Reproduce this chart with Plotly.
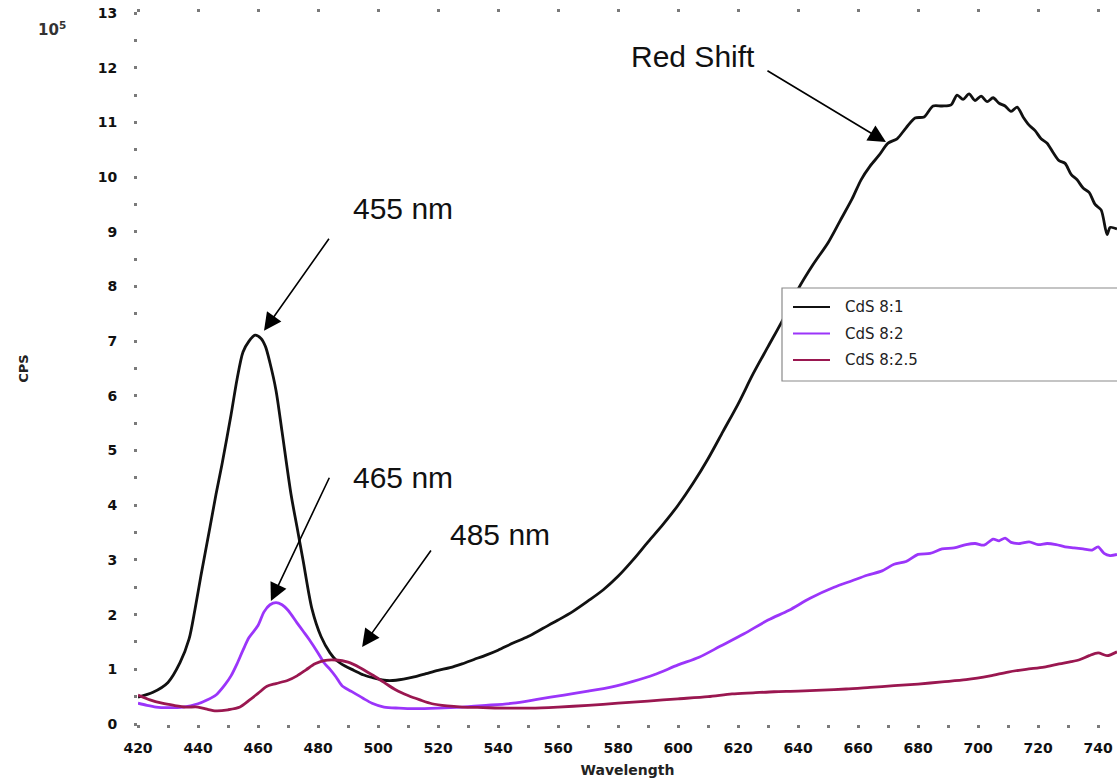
import plotly.graph_objects as go

# ---- emission spectra (wavelength in nm, intensity in units of 10^5 CPS) ----
series_names = ["CdS 8:1", "CdS 8:2", "CdS 8:2.5"]

wl_81 = [420, 425, 430, 434, 437, 439, 441, 444, 446, 448, 451, 453, 455, 457, 459, 461, 462.5, 464,
         466, 468, 471, 473, 475, 478, 481, 484, 486, 489, 492, 495, 498, 502, 506, 512, 516, 520,
         524, 528, 532, 536, 540, 545, 550, 555, 560, 565, 570, 575, 580, 585, 590, 595, 600, 605,
         610, 615, 620, 625, 630, 635, 640, 645, 650, 654, 658, 661, 664, 667, 670, 673, 676, 679,
         682, 685, 688, 691, 693, 695, 697, 699, 701, 703, 705, 707, 709, 711, 713, 715, 717, 719,
         721, 723, 725, 727, 729, 731, 733, 735, 737, 739, 741, 743, 744, 746.3]
cps_81 = [0.49, 0.58, 0.76, 1.12, 1.55, 2.1, 2.72, 3.6, 4.2, 4.75, 5.65, 6.3, 6.8, 7.0, 7.11, 7.05,
          6.9, 6.6, 6.1, 5.35, 4.2, 3.6, 3.0, 2.1, 1.6, 1.3, 1.17, 1.06, 0.98, 0.9, 0.85, 0.8, 0.8,
          0.86, 0.92, 0.98, 1.03, 1.1, 1.18, 1.26, 1.35, 1.48, 1.6, 1.75, 1.9, 2.06, 2.25, 2.45,
          2.7, 3.0, 3.33, 3.65, 4.0, 4.4, 4.85, 5.35, 5.85, 6.4, 6.9, 7.4, 7.95, 8.4, 8.8, 9.2, 9.6,
          9.95, 10.2, 10.4, 10.62, 10.7, 10.9, 11.08, 11.1, 11.3, 11.3, 11.32, 11.5, 11.42, 11.52,
          11.4, 11.48, 11.38, 11.45, 11.35, 11.3, 11.2, 11.28, 11.1, 10.95, 10.85, 10.7, 10.62,
          10.45, 10.3, 10.25, 10.05, 9.95, 9.8, 9.72, 9.5, 9.4, 8.95, 9.08, 9.05]

wl_82 = [420, 423, 426, 430, 435, 440, 443, 446, 449, 451, 453, 455, 457, 460, 462, 464, 466, 468,
         470, 473, 475, 477, 480, 482, 484, 486, 488, 491, 495, 498, 502, 507, 512, 520, 528, 536,
         545, 553, 562, 570, 578, 585, 592, 600, 607, 614, 622, 630, 637, 644, 652, 658, 663, 668,
         672, 676, 680, 684, 688, 692, 696, 699, 702, 705, 707, 709, 711, 714, 717, 720, 723, 726,
         729, 732, 735, 738, 740, 742, 744, 746.3]
cps_82 = [0.38, 0.34, 0.31, 0.30, 0.31, 0.37, 0.44, 0.53, 0.72, 0.88, 1.1, 1.35, 1.58, 1.8, 2.05,
          2.18, 2.22, 2.18, 2.08, 1.85, 1.7, 1.55, 1.3, 1.12, 1.0, 0.86, 0.7, 0.6, 0.47, 0.38, 0.31,
          0.29, 0.28, 0.29, 0.31, 0.34, 0.38, 0.45, 0.53, 0.6, 0.68, 0.78, 0.9, 1.08, 1.22, 1.42,
          1.65, 1.9, 2.08, 2.3, 2.5, 2.62, 2.72, 2.8, 2.92, 2.97, 3.1, 3.12, 3.2, 3.22, 3.28, 3.3,
          3.27, 3.38, 3.35, 3.4, 3.32, 3.3, 3.33, 3.28, 3.3, 3.28, 3.24, 3.22, 3.2, 3.18, 3.24,
          3.12, 3.08, 3.1]

wl_825 = [420, 424, 428, 432, 436, 440, 443, 446, 450, 454, 457, 460, 463, 466, 470, 473, 476, 479,
          482, 486, 490, 494, 498, 502, 506, 510, 514, 518, 523, 528, 535, 543, 551, 560, 570, 580,
          590, 600, 610, 618, 625, 632, 640, 648, 656, 664, 672, 680, 688, 696, 704, 710, 716, 722,
          727, 731, 734, 737, 740, 743, 746.3]
cps_825 = [0.53, 0.44, 0.38, 0.34, 0.31, 0.31, 0.27, 0.24, 0.26, 0.31, 0.43, 0.56, 0.69, 0.74, 0.8,
           0.88, 0.99, 1.1, 1.16, 1.17, 1.13, 1.03, 0.9, 0.76, 0.62, 0.52, 0.44, 0.37, 0.33, 0.31,
           0.3, 0.29, 0.29, 0.31, 0.34, 0.38, 0.42, 0.46, 0.5, 0.55, 0.57, 0.59, 0.6, 0.62, 0.64,
           0.67, 0.7, 0.73, 0.77, 0.81, 0.88, 0.95, 1.0, 1.04, 1.1, 1.14, 1.18, 1.25, 1.3, 1.25, 1.32]

series_colors = ["#111111", "#9B35FA", "#9A1750"]

# axis ticks
x_tick_vals = list(range(420, 741, 20))
y_tick_vals = list(range(0, 14))

# peak call-outs: (label, label position, arrow tip, arrow tail) in data units
callouts = [
    ("455 nm", (508.3, 9.43), (462.0, 7.19), (484.0, 8.90)),
    ("465 nm", (508.3, 4.50), (464.3, 2.25), (484.0, 4.53)),
    ("485 nm", (540.7, 3.46), (494.7, 1.41), (518.0, 3.20)),
    ("Red Shift", (605.0, 12.2), (669.3, 10.64), (629.3, 11.96)),
]

W, H = 1117, 782
L, R, T, B = 138, 0, 13, 58
PW, PH = W - L - R, H - T - B


def px(x):
    return (x - L) / PW


def py(y):
    return (H - B - y) / PH


fig = go.Figure()
for name, xs, ys, col in zip(series_names, [wl_81, wl_82, wl_825],
                             [cps_81, cps_82, cps_825], series_colors):
    fig.add_trace(go.Scatter(x=xs, y=ys, mode="lines", name=name,
                             line=dict(color=col, width=2.8, shape="spline", smoothing=0.8),
                             showlegend=False))

tick_font = dict(family="DejaVu Sans", size=14, color="#111111", weight="bold")

fig.update_layout(
    width=W, height=H,
    margin=dict(l=L, r=R, t=T, b=B, autoexpand=False),
    paper_bgcolor="white", plot_bgcolor="white",
    showlegend=False,
    xaxis=dict(
        range=[420, 746.3], tickvals=x_tick_vals, showgrid=False, zeroline=False,
        showline=False, ticks="outside", ticklen=3, tickwidth=3, tickcolor="#7a7a7a",
        minor=dict(dtick=10, tick0=420, ticks="outside", ticklen=3, tickwidth=3,
                   tickcolor="#7a7a7a", showgrid=False),
        tickfont=tick_font, ticklabelstandoff=8,
        title=dict(text="Wavelength", standoff=10,
                   font=dict(family="DejaVu Sans", size=14, color="#222222", weight="bold")),
    ),
    xaxis2=dict(
        range=[420, 746.3], overlaying="x", side="top", tickvals=x_tick_vals,
        showticklabels=False, showgrid=False, zeroline=False, showline=False,
        ticks="outside", ticklen=3, tickwidth=3, tickcolor="#7a7a7a",
    ),
    yaxis=dict(
        range=[0, 13], tickvals=y_tick_vals, showgrid=False, zeroline=False,
        showline=False, ticks="outside", ticklen=3, tickwidth=3, tickcolor="#7a7a7a",
        minor=dict(dtick=0.5, tick0=0, ticks="outside", ticklen=3, tickwidth=3,
                   tickcolor="#7a7a7a", showgrid=False),
        tickfont=tick_font, ticklabelstandoff=14,
        title=dict(text="CPS", standoff=66,
                   font=dict(family="DejaVu Sans", size=13, color="#222222", weight="bold")),
    ),
)

# an invisible point keeps the top axis alive
fig.add_trace(go.Scatter(x=[420], y=[0], xaxis="x2", mode="markers",
                         marker=dict(opacity=0), hoverinfo="skip", showlegend=False))

annotations = []
for text, (tx, ty), (hx, hy), (ax, ay) in callouts:
    annotations.append(dict(x=tx, y=ty, xref="x", yref="y", text=text, showarrow=False,
                            font=dict(family="Liberation Sans, Arial", size=30, color="#111111")))
    annotations.append(dict(x=hx, y=hy, xref="x", yref="y", ax=ax, ay=ay,
                            axref="x", ayref="y", text="", showarrow=True,
                            arrowhead=2, arrowsize=2.2, arrowwidth=1.6,
                            arrowcolor="#000000", standoff=0))

# exponent marker for the intensity scale
annotations.append(dict(x=px(36), y=py(17), xref="paper", yref="paper",
                        text="10<sup>5</sup>", showarrow=False,
                        font=dict(family="DejaVu Sans", size=15, color="#333333", weight="bold")))

# boxed key
shapes = [dict(type="rect", xref="paper", yref="paper", x0=px(782), x1=px(1130),
               y0=py(381), y1=py(288), fillcolor="white",
               line=dict(color="#8a8a8a", width=1.2), layer="above")]
for i, (name, col) in enumerate(zip(series_names, series_colors)):
    yrow = 307 + 26.5 * i
    shapes.append(dict(type="line", xref="paper", yref="paper", x0=px(793), x1=px(830),
                       y0=py(yrow), y1=py(yrow), line=dict(color=col, width=2.2),
                       layer="above"))
    annotations.append(dict(x=px(843), y=py(yrow), xref="paper", yref="paper",
                            text=name, showarrow=False, xanchor="left", yanchor="middle",
                            font=dict(family="DejaVu Sans", size=15, color="#222222")))

fig.update_layout(annotations=annotations, shapes=shapes)

fig.write_html("out.html")
